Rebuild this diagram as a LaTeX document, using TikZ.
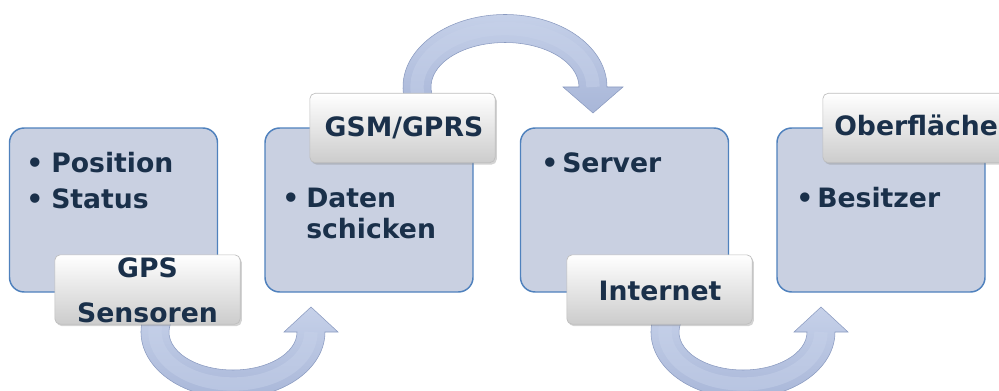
\documentclass[tikz,border=0pt]{standalone}
\usepackage{fontspec}
\setmainfont{DejaVu Sans}
\usetikzlibrary{shadows}

\definecolor{boxfill}{RGB}{201,208,225}
\definecolor{boxline}{RGB}{79,129,189}
\definecolor{textcol}{RGB}{26,48,74}
\definecolor{labelgray}{RGB}{204,204,204}
\definecolor{labelline}{RGB}{190,190,190}
\definecolor{arrowlight}{RGB}{198,209,233}
\definecolor{arrowmid}{RGB}{168,182,216}
\definecolor{arrowdark}{RGB}{138,154,192}

\tikzset{
  mainbox/.style={draw=boxline, line width=1.1pt, fill=boxfill,
    rounded corners=11pt, minimum width=156pt, minimum height=123pt, inner sep=0pt},
  labelbox/.style={draw=labelline, line width=0.5pt, top color=white, bottom color=labelgray,
    rounded corners=4pt, minimum width=139pt, minimum height=52pt, inner sep=0pt,
    drop shadow={shadow xshift=1.2pt, shadow yshift=-1.5pt, opacity=0.35}},
  txt/.style={font=\bfseries\fontsize{20}{24}\selectfont, text=textcol, inner sep=0pt},
  itemtext/.style={txt, anchor=base west},
  bulletmark/.style={txt, anchor=base west},
  labeltext/.style={txt, anchor=base},
  bandarrow/.style={top color=arrowlight, bottom color=arrowmid, draw=arrowdark, line width=0.4pt},
  pipeglow/.style={draw=arrowlight, line width=10pt, opacity=0.5}
}

\begin{document}
\begin{tikzpicture}[x=0.75pt,y=0.75pt]
\useasboundingbox (0,0) rectangle (999,390);
\clip (0,0) rectangle (999,390);

% centres of the curved arrows
\coordinate (arcA) at (233,58);
\coordinate (arcB) at (505,303);
\coordinate (arcC) at (743,58);

% curved block arrows (drawn first, the label boxes cover their tails)
\begin{scope}[shift={(arcA)}]
  \path[bandarrow] (160:92 and 66)
    arc[start angle=160, end angle=360, x radius=92, y radius=66]
    -- ++(13,0) -- ++(-27,25) -- ++(-27,-25) -- ++(13,0)
    arc[start angle=360, end angle=160, x radius=64, y radius=38] -- cycle;
  \path[pipeglow] (160:78 and 52) arc[start angle=160, end angle=360, x radius=78, y radius=52];
\end{scope}
\begin{scope}[shift={(arcB)}]
  \path[bandarrow] (190:102 and 72.5)
    arc[start angle=190, end angle=0, x radius=102, y radius=72.5]
    -- ++(16,0) -- ++(-30,-26) -- ++(-30,26) -- ++(16,0)
    arc[start angle=0, end angle=190, x radius=74, y radius=44.5] -- cycle;
  \path[pipeglow] (190:88 and 58.5) arc[start angle=190, end angle=0, x radius=88, y radius=58.5];
\end{scope}
\begin{scope}[shift={(arcC)}]
  \path[bandarrow] (160:92 and 66)
    arc[start angle=160, end angle=360, x radius=92, y radius=66]
    -- ++(13,0) -- ++(-27,25) -- ++(-27,-25) -- ++(13,0)
    arc[start angle=360, end angle=160, x radius=64, y radius=38] -- cycle;
  \path[pipeglow] (160:78 and 52) arc[start angle=160, end angle=360, x radius=78, y radius=52];
\end{scope}

% main step boxes
\node[mainbox] (step1) at (113.5,180) {};
\node[mainbox] (step2) at (369,180) {};
\node[mainbox] (step3) at (624.5,180) {};
\node[mainbox] (step4) at (881,180) {};

% bullet items
\node[bulletmark] (b1a) at (26,218) {•};
\node[itemtext]   (t1a) at (51,218) {Position};
\node[bulletmark] (b1b) at (26,182) {•};
\node[itemtext]   (t1b) at (51,182) {Status};

\node[bulletmark] (b2a) at (282,183) {•};
\node[itemtext]   (t2a) at (306,183) {Daten};
\node[itemtext]   (t2b) at (306,152) {schicken};

\node[bulletmark] (b3a) at (541,218) {•};
\node[itemtext]   (t3a) at (562,218) {Server};

\node[bulletmark] (b4a) at (796,183) {•};
\node[itemtext]   (t4a) at (817,183) {Besitzer};

% label boxes
\node[labelbox] (gps)  at (147.5,100.5) {};
\node[labelbox] (gsm)  at (402.5,262) {};
\node[labelbox] (inet) at (659.5,100.5) {};
\node[labelbox] (ober) at (915.5,262) {};

\node[labeltext] (gpsA) at (147.5,113) {GPS};
\node[labeltext] (gpsB) at (147.5,68) {Sensoren};
\node[labeltext] (gsmA) at (404,253) {GSM/GPRS};
\node[labeltext] (inetA) at (660,90) {Internet};
\node[itemtext]  (oberA) at (834,255) {Oberfläche};
\end{tikzpicture}
\end{document}
